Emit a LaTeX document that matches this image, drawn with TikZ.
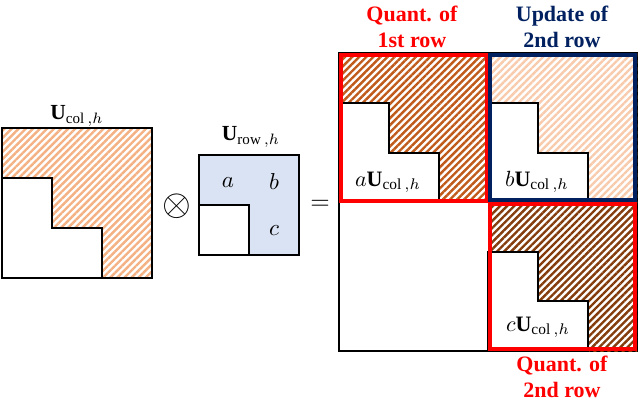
\documentclass[tikz,border=0pt]{standalone}
\usepackage{graphicx}
\usepackage{fontspec}
\setmainfont{Liberation Serif}
\usetikzlibrary{patterns.meta}
\definecolor{hatchA}{HTML}{F4B183}
\definecolor{hatchB}{HTML}{C05A1A}
\definecolor{hatchC}{HTML}{F8CBAD}
\definecolor{hatchD}{HTML}{843C0C}
\definecolor{rowblue}{HTML}{DAE3F3}
\definecolor{qred}{HTML}{FF0000}
\definecolor{navy}{HTML}{002060}
\newcommand{\scmath}[2]{\scalebox{#1}{$#2$}}
\tikzset{
  hatch/.style={pattern={Lines[angle=45,distance=5pt,line width=2.4pt]},pattern color=#1},
  mlabel/.style={inner sep=0pt},
  cap/.style={inner sep=0pt,align=center,font=\fontsize{22}{26}\selectfont\bfseries,text=#1},
  frame/.style={draw=#1,line width=4pt},
}
\begin{document}
\begin{tikzpicture}[x=1pt,y=-1pt]
\useasboundingbox (0,0) rectangle (640,402);
% left matrix
\fill[hatch=hatchA] (2,128) rectangle (152,278);
\filldraw[fill=white,line width=1.8pt] (2,178) -- (52,178) -- (52,228) -- (102,228) -- (102,278) -- (2,278) -- cycle;
\draw[line width=1.8pt] (2,128) rectangle (152,278);
\node[mlabel] (ucol) at (77,116) {\scmath{2.15}{\mathbf{U}_{\mathrm{col}\,,h}}};
% otimes
\node[mlabel] (times) at (177,206) {\scmath{3.7}{\otimes}};
% middle matrix
\fill[rowblue] (199,155) rectangle (299,255);
\filldraw[fill=white,line width=1.8pt] (199,205) rectangle (249,255);
\draw[line width=1.8pt] (199,155) rectangle (299,255);
\node[mlabel] (urow) at (251,137) {\scmath{2.15}{\mathbf{U}_{\mathrm{row}\,,h}}};
\node[mlabel] (a) at (228,183) {\scmath{2.3}{a}};
\node[mlabel] (b) at (274,182) {\scmath{2.3}{b}};
\node[mlabel] (c) at (274,231) {\scmath{2.3}{c}};
% equals
\node[mlabel] (eq) at (320,205) {\scmath{2.5}{=}};
% right matrix
\draw[line width=1.5pt] (339,53) rectangle (637,351);
\fill[hatch=hatchB] (339,53) rectangle (488,202);
\fill[hatch=hatchC] (488,53) rectangle (637,202);
\fill[hatch=hatchD] (488,202) rectangle (637,351);
\filldraw[fill=white,line width=1.5pt] (339,103) -- (389,103) -- (389,153) -- (439,153) -- (439,202) -- (339,202) -- cycle;
\filldraw[fill=white,line width=1.5pt] (488,103) -- (538,103) -- (538,153) -- (588,153) -- (588,202) -- (488,202) -- cycle;
\filldraw[fill=white,line width=1.5pt] (488,252) -- (538,252) -- (538,301) -- (588,301) -- (588,351) -- (488,351) -- cycle;
\draw[frame=qred] (341,55) rectangle (487,201);
\draw[frame=qred] (490,204) rectangle (635,349);
\draw[frame=navy] (490,55) rectangle (635,200);
\node[mlabel] (aU) at (388,182) {\scmath{2.2}{a\mathbf{U}_{\mathrm{col}\,,h}}};
\node[mlabel] (bU) at (537,182) {\scmath{2.2}{b\mathbf{U}_{\mathrm{col}\,,h}}};
\node[mlabel] (cU) at (538,327) {\scmath{2.2}{c\mathbf{U}_{\mathrm{col}\,,h}}};
% captions
\node[cap=qred] (q1) at (412,27) {Quant. of\\1st row};
\node[cap=navy] (up) at (562,27) {Update of\\2nd row};
\node[cap=qred] (q2) at (562,377) {Quant. of\\2nd row};
\end{tikzpicture}
\end{document}
